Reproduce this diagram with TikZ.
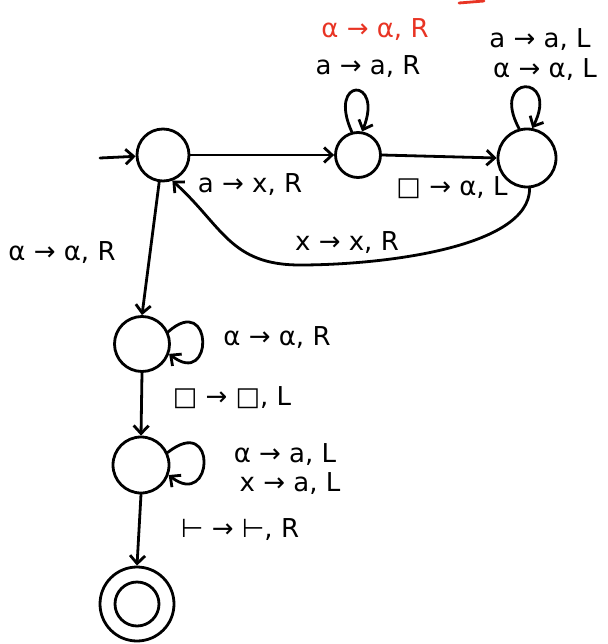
\documentclass[tikz,border=0pt]{standalone}
\usepackage{fontspec}
\setmainfont{DejaVu Sans}
\usetikzlibrary{arrows.meta}
\definecolor{inkred}{RGB}{232,52,36}
\begin{document}
\begin{tikzpicture}[x=1pt,y=-1pt,
  ink/.style={line width=2.8pt,line cap=round,line join=round},
  st/.style={ink,draw,circle,inner sep=0pt},
  tr/.style={ink,draw,-{Straight Barb[length=8pt,width=15pt]}},
  lbl/.style={font=\fontsize{26}{30}\selectfont,inner sep=1pt,align=left},
  redlbl/.style={lbl,text=inkred}]
\useasboundingbox (0,0) rectangle (607,644);
% states
\node[st,minimum size=52pt] (q0) at (163,155) {};
\node[st,minimum size=45pt] (q1) at (358,155) {};
\node[st,minimum size=58pt] (q2) at (527,158) {};
\node[st,minimum size=55pt] (q3) at (142,344) {};
\node[st,minimum size=56pt] (q4) at (141,465) {};
\node[st,minimum size=74pt] (q5) at (137,604) {};
\node[st,minimum size=44pt] (q5i) at (137,604) {};
% start arrow
\coordinate (s) at (100,158);
\draw[tr] (s) -- (q0);
% transitions
\draw[tr] (q0.east) -- (q1.west);
\draw[tr] (q1.east) -- (q2.west);
\draw[tr] (q1.105) .. controls +(-25,-55) and +(22,-55) .. (q1.80);
\draw[tr] (q2.105) .. controls +(-30,-55) and +(28,-55) .. (q2.80);
\coordinate (m) at (300,265);
\draw[tr] (q2.275) .. controls +(0,60) and +(80,0) .. (m)
  .. controls +(-70,0) and +(50,45) .. (q0.290);
\draw[tr] (q0.262) -- (q3.north);
\draw[tr] (q3.25) .. controls +(45,-40) and +(45,35) .. (q3.-20);
\draw[tr] (q3.south) -- (q4.north);
\draw[tr] (q4.25) .. controls +(50,-40) and +(45,35) .. (q4.-20);
\draw[tr] (q4.south) -- (q5.north);
% labels
\node[redlbl] (l1r) at (375,30) {α → α, R};
\node[lbl] (l1) at (368,67) {a → a, R};
\node[lbl] (l2a) at (540,40) {a → a, L};
\node[lbl] (l2b) at (545,70) {α → α, L};
\node[lbl] (l01) at (250,185) {a → x, R};
\node[lbl] (l12) at (452,188) {□ → α, L};
\node[lbl] (l20) at (347,243) {x → x, R};
\node[lbl] (l03) at (62,253) {α → α, R};
\node[lbl] (l3) at (277,338) {α → α, R};
\node[lbl] (l34) at (232,398) {□ → □, L};
\node[lbl] (l4a) at (285,455) {α → a, L};
\node[lbl] (l4b) at (290,484) {x → a, L};
\node[lbl] (l45) at (240,530) {⊢ → ⊢, R};
% red stroke at top edge
\draw[ink,inkred] (459,3) -- (484,1);
\end{tikzpicture}
\end{document}
